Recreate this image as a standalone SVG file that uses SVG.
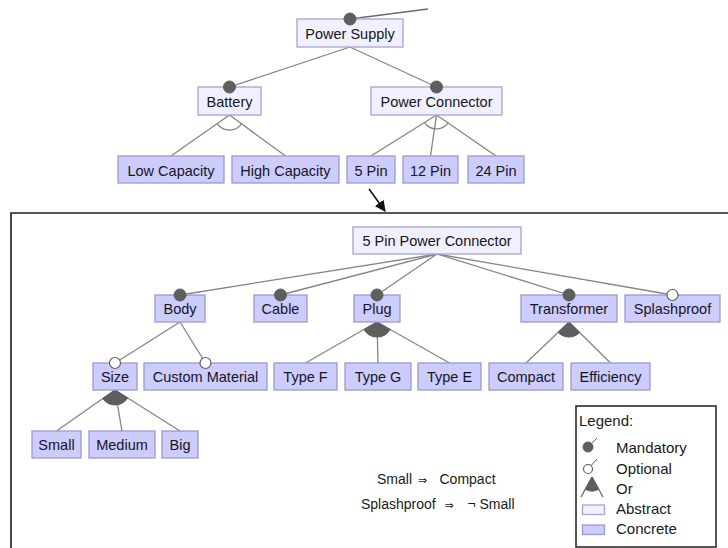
<svg xmlns="http://www.w3.org/2000/svg" width="728" height="548" viewBox="0 0 728 548">
  <defs>
    <style>
      .abs { fill: #f0f0ff; stroke: #a4a4d6; stroke-width: 1.3; }
      .con { fill: #ccccff; stroke: #9a9acd; stroke-width: 1.3; }
      .lbl { font-family: "Liberation Sans", Arial, sans-serif; font-size: 14.5px; fill: #161622; text-anchor: middle; }
      .edge { stroke: #858585; stroke-width: 1.3; fill: none; }
      .mand { fill: #5e5e5e; stroke: #5e5e5e; stroke-width: 1; }
      .opt { fill: #ffffff; stroke: #5e5e5e; stroke-width: 1.2; }
      .alt { fill: none; stroke: #858585; stroke-width: 1.3; }
      .or { fill: #5e5e5e; stroke: #5e5e5e; stroke-width: 1; }
      .txt { font-family: "Liberation Sans", Arial, sans-serif; font-size: 14px; fill: #1a1a1a; }
      .imp { font-family: "DejaVu Sans", sans-serif; font-size: 11px; }
      .leg { font-family: "Liberation Sans", Arial, sans-serif; font-size: 15px; fill: #1a1a1a; }
    </style>
    <marker id="arrowhead" viewBox="0 0 10 10" refX="9" refY="5" markerWidth="11" markerHeight="11" markerUnits="userSpaceOnUse" orient="auto">
      <path d="M0,0 L10,5 L0,10 Z" fill="#111"/>
    </marker>
  </defs>

  <rect width="728" height="548" fill="#ffffff"/>

  <!-- frame of the expanded sub-model -->
  <path d="M11,548 L11,213 L728,213" fill="none" stroke="#1e1e1e" stroke-width="1.6"/>

  <!-- connectors -->
  <g id="connectors">
    <line class="edge" x1="350" y1="19" x2="428" y2="9" style="stroke:#6a6a6a"/>
    <line class="edge" x1="350" y1="47" x2="229.5" y2="87"/>
    <line class="edge" x1="350" y1="47" x2="436.5" y2="87"/>

    <line class="edge" x1="229.5" y1="115" x2="171" y2="156"/>
    <line class="edge" x1="229.5" y1="115" x2="285.5" y2="156"/>
    <path class="alt" d="M217.2,123.6 A15,15 0 0 0 241.6,123.9"/>

    <line class="edge" x1="436.5" y1="115" x2="371" y2="156"/>
    <line class="edge" x1="436.5" y1="115" x2="430.5" y2="156"/>
    <line class="edge" x1="436.5" y1="115" x2="496" y2="156"/>
    <path class="alt" d="M424.6,122.4 A14,14 0 0 0 448.0,122.9"/>

    <line x1="369" y1="189" x2="385" y2="211" stroke="#111" stroke-width="1.6" marker-end="url(#arrowhead)"/>

    <line class="edge" x1="437" y1="254" x2="180" y2="295"/>
    <line class="edge" x1="437" y1="254" x2="280.5" y2="295"/>
    <line class="edge" x1="437" y1="254" x2="377" y2="295"/>
    <line class="edge" x1="437" y1="254" x2="569" y2="295"/>
    <line class="edge" x1="437" y1="254" x2="672.5" y2="295"/>

    <line class="edge" x1="180" y1="322" x2="115" y2="363"/>
    <line class="edge" x1="180" y1="322" x2="205.5" y2="363"/>

    <line class="edge" x1="377" y1="322" x2="305.5" y2="363"/>
    <line class="edge" x1="377" y1="322" x2="378" y2="363"/>
    <line class="edge" x1="377" y1="322" x2="449.5" y2="363"/>
    <path class="or" d="M377,322 L364.0,329.5 A15,15 0 0 0 390.1,329.4 Z"/>

    <line class="edge" x1="569" y1="322" x2="526" y2="363"/>
    <line class="edge" x1="569" y1="322" x2="610.5" y2="363"/>
    <path class="or" d="M569,322 L558.1,332.4 A15,15 0 0 0 579.7,332.5 Z"/>

    <line class="edge" x1="115" y1="390" x2="56.5" y2="431"/>
    <line class="edge" x1="115" y1="390" x2="122" y2="431"/>
    <line class="edge" x1="115" y1="390" x2="180" y2="431"/>
    <path class="or" d="M115,390 L102.7,398.6 A15,15 0 0 0 127.7,398.0 Z"/>
  </g>

  <!-- upper model -->
  <g id="power-supply">
    <rect class="abs" x="297" y="19" width="106" height="28"/>
    <text class="lbl" x="350" y="38.5">Power Supply</text>
    <circle class="mand" cx="350" cy="19" r="6"/>
  </g>
  <g id="battery">
    <rect class="abs" x="198" y="87" width="63" height="28"/>
    <text class="lbl" x="229.5" y="106.5">Battery</text>
    <circle class="mand" cx="229.5" cy="87" r="6"/>
  </g>
  <g id="power-connector">
    <rect class="abs" x="371" y="87" width="131" height="28"/>
    <text class="lbl" x="436.5" y="106.5">Power Connector</text>
    <circle class="mand" cx="436.5" cy="87" r="6"/>
  </g>
  <g id="low-capacity">
    <rect class="con" x="118" y="156" width="106" height="27"/>
    <text class="lbl" x="171" y="175.5">Low Capacity</text>
  </g>
  <g id="high-capacity">
    <rect class="con" x="232" y="156" width="107" height="27"/>
    <text class="lbl" x="285.5" y="175.5">High Capacity</text>
  </g>
  <g id="pin-5">
    <rect class="con" x="347" y="156" width="48" height="27"/>
    <text class="lbl" x="371" y="175.5">5 Pin</text>
  </g>
  <g id="pin-12">
    <rect class="con" x="403" y="156" width="55" height="27"/>
    <text class="lbl" x="430.5" y="175.5">12 Pin</text>
  </g>
  <g id="pin-24">
    <rect class="con" x="468" y="156" width="56" height="27"/>
    <text class="lbl" x="496" y="175.5">24 Pin</text>
  </g>

  <!-- 5 pin connector sub-model -->
  <g id="five-pin-power-connector">
    <rect class="abs" x="353" y="227" width="168" height="27"/>
    <text class="lbl" x="437" y="246">5 Pin Power Connector</text>
  </g>
  <g id="body">
    <rect class="con" x="155" y="295" width="50" height="27"/>
    <text class="lbl" x="180" y="314">Body</text>
    <circle class="mand" cx="180" cy="295" r="6"/>
  </g>
  <g id="cable">
    <rect class="con" x="254" y="295" width="53" height="27"/>
    <text class="lbl" x="280.5" y="314">Cable</text>
    <circle class="mand" cx="280.5" cy="295" r="6"/>
  </g>
  <g id="plug">
    <rect class="con" x="354" y="295" width="46" height="27"/>
    <text class="lbl" x="377" y="314">Plug</text>
    <circle class="mand" cx="377" cy="295" r="6"/>
  </g>
  <g id="transformer">
    <rect class="con" x="521" y="295" width="96" height="27"/>
    <text class="lbl" x="569" y="314">Transformer</text>
    <circle class="mand" cx="569" cy="295" r="6"/>
  </g>
  <g id="splashproof">
    <rect class="con" x="625" y="295" width="95" height="27"/>
    <text class="lbl" x="672.5" y="314">Splashproof</text>
    <circle class="opt" cx="672.5" cy="295" r="5.5"/>
  </g>
  <g id="size">
    <rect class="con" x="93" y="363" width="44" height="27"/>
    <text class="lbl" x="115" y="382">Size</text>
    <circle class="opt" cx="115" cy="363" r="5.5"/>
  </g>
  <g id="custom-material">
    <rect class="con" x="144" y="363" width="123" height="27"/>
    <text class="lbl" x="205.5" y="382">Custom Material</text>
    <circle class="opt" cx="205.5" cy="363" r="5.5"/>
  </g>
  <g id="type-f">
    <rect class="con" x="274" y="363" width="63" height="27"/>
    <text class="lbl" x="305.5" y="382">Type F</text>
  </g>
  <g id="type-g">
    <rect class="con" x="345" y="363" width="66" height="27"/>
    <text class="lbl" x="378" y="382">Type G</text>
  </g>
  <g id="type-e">
    <rect class="con" x="418" y="363" width="63" height="27"/>
    <text class="lbl" x="449.5" y="382">Type E</text>
  </g>
  <g id="compact">
    <rect class="con" x="489" y="363" width="74" height="27"/>
    <text class="lbl" x="526" y="382">Compact</text>
  </g>
  <g id="efficiency">
    <rect class="con" x="571" y="363" width="79" height="27"/>
    <text class="lbl" x="610.5" y="382">Efficiency</text>
  </g>
  <g id="small">
    <rect class="con" x="32" y="431" width="49" height="27"/>
    <text class="lbl" x="56.5" y="450">Small</text>
  </g>
  <g id="medium">
    <rect class="con" x="89" y="431" width="66" height="27"/>
    <text class="lbl" x="122" y="450">Medium</text>
  </g>
  <g id="big">
    <rect class="con" x="162" y="431" width="36" height="27"/>
    <text class="lbl" x="180" y="450">Big</text>
  </g>

  <!-- cross-tree constraints -->
  <g id="constraints">
    <text class="txt" y="484"><tspan x="377">Small</tspan><tspan x="418" class="imp">⇒</tspan><tspan x="439.5">Compact</tspan></text>
    <text class="txt" y="509"><tspan x="361">Splashproof</tspan><tspan x="444.5" class="imp">⇒</tspan><tspan x="467.5">¬</tspan><tspan x="479.5">Small</tspan></text>
  </g>

  <!-- legend -->
  <g id="legend">
    <rect x="576" y="406" width="140" height="141" fill="#ffffff" stroke="#1e1e1e" stroke-width="1.5"/>
    <text class="leg" x="579" y="426">Legend:</text>

    <line x1="588" y1="447" x2="597" y2="438" stroke="#5e5e5e" stroke-width="1"/>
    <circle class="mand" cx="588" cy="447" r="5"/>
    <text class="leg" x="616" y="453">Mandatory</text>

    <line x1="588" y1="469" x2="597" y2="459" stroke="#5e5e5e" stroke-width="1"/>
    <circle class="opt" cx="588" cy="469" r="4.5"/>
    <text class="leg" x="616" y="473.5">Optional</text>

    <line x1="592" y1="477" x2="581" y2="497" stroke="#5e5e5e" stroke-width="1.2"/>
    <line x1="592" y1="477" x2="603" y2="497" stroke="#5e5e5e" stroke-width="1.2"/>
    <path class="or" d="M592,477 L585.3,489.3 A14,14 0 0 0 598.7,489.3 Z"/>
    <text class="leg" x="616" y="493.5">Or</text>

    <rect class="abs" x="582.5" y="505" width="22" height="9.5"/>
    <text class="leg" x="616" y="514">Abstract</text>

    <rect class="con" x="582.5" y="525" width="22" height="9.5"/>
    <text class="leg" x="616" y="534">Concrete</text>
  </g>
</svg>
